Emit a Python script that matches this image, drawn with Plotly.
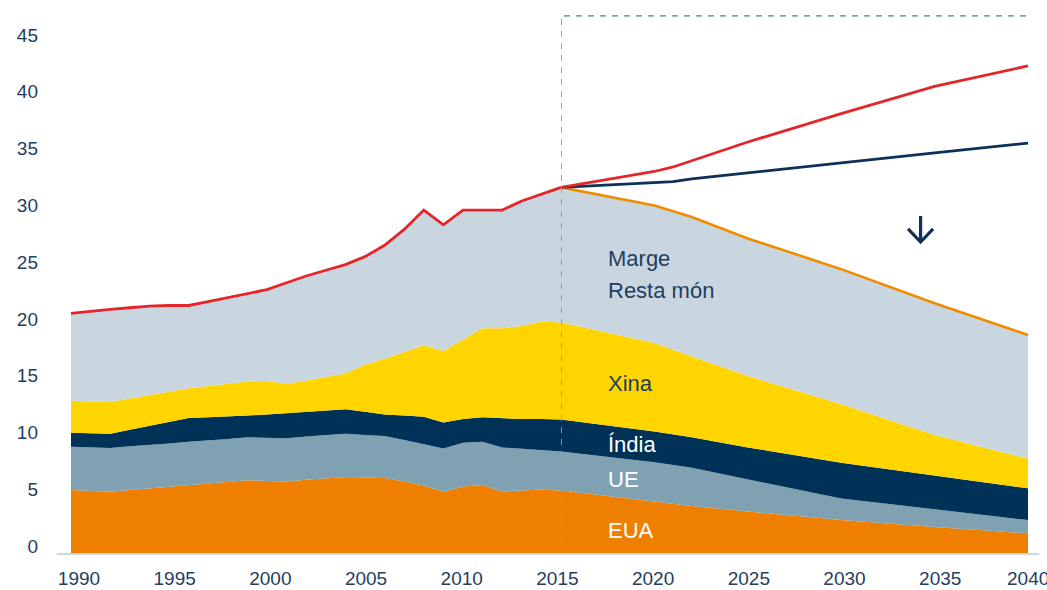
import numpy as np
import plotly.graph_objects as go

# ---------------- data (Gt CO2) ----------------
years = list(range(1990, 2016)) + [2020, 2022, 2025, 2030, 2035, 2040]

eua = [5.55, 5.5, 5.4, 5.55, 5.7, 5.85, 6.0, 6.15, 6.3, 6.4, 6.35, 6.3, 6.45, 6.6, 6.7, 6.65,
       6.6, 6.3, 5.95, 5.4, 5.85, 6.0, 5.4, 5.5, 5.6, 5.5, 4.5, 4.15, 3.65, 2.9, 2.3, 1.73]
ue = [3.8, 3.8, 3.85, 3.85, 3.8, 3.8, 3.8, 3.75, 3.75, 3.8, 3.8, 3.8, 3.8, 3.8, 3.8, 3.75,
      3.7, 3.65, 3.65, 3.8, 3.85, 3.8, 3.9, 3.7, 3.5, 3.45, 3.5, 3.35, 2.85, 1.9, 1.55, 1.17]
india = [1.25, 1.25, 1.25, 1.45, 1.7, 1.9, 2.1, 2.05, 1.95, 1.9, 2.05, 2.2, 2.15, 2.15, 2.15, 2.05,
         1.9, 2.15, 2.4, 2.3, 2.1, 2.15, 2.55, 2.6, 2.7, 2.8, 2.7, 2.7, 2.8, 3.15, 3.0, 2.8]
xina = [2.8, 2.8, 2.8, 2.75, 2.7, 2.65, 2.6, 2.75, 2.9, 3.0, 2.95, 2.6, 2.8, 2.95, 3.15, 4.15,
        4.9, 5.6, 6.3, 6.3, 7.0, 7.85, 7.95, 8.2, 8.6, 8.55, 7.8, 7.1, 6.3, 5.15, 3.55, 2.6]
resta = [7.7, 7.95, 8.15, 8.0, 7.85, 7.6, 7.3, 7.45, 7.6, 7.75, 8.05, 8.9, 9.2, 9.4, 9.6, 9.5,
         10.0, 10.8, 11.9, 11.1, 11.4, 10.4, 10.4, 11.0, 11.2, 11.9, 12.1, 12.3, 12.1, 11.9, 11.6, 10.9]

current_years = [2015, 2020, 2021, 2025, 2030, 2035, 2040]
current_policies = [32.2, 33.6, 34.0, 36.2, 38.7, 41.1, 42.9]
new_years = [2015, 2020, 2021, 2022, 2030, 2035, 2040]
new_policies = [32.2, 32.6, 32.7, 32.95, 34.4, 35.25, 36.1]

series_names = ["EUA", "UE", "Índia", "Xina", "Resta món"]
series_values = [eua, ue, india, xina, resta]
series_colors = ["#EE7F00", "#7FA1B2", "#003258", "#FFD500", "#C9D6DF"]

y_ticks = [0, 5, 10, 15, 20, 25, 30, 35, 40, 45]
x_ticks = [1990, 1995, 2000, 2005, 2010, 2015, 2020, 2025, 2030, 2035]
last_tick = 2040
split_year = 2015
box_top = 47.3

# ---------------- figure ----------------
navy_text = "#1F3E60"
fig = go.Figure()

yrs = np.array(years)
hist = yrs <= split_year
proj = yrs >= split_year
split_dom = 0.51324   # history part of the plot width (the source draws history a bit wider)

for name, vals, col in zip(series_names, series_values, series_colors):
    v = np.array(vals)
    fig.add_trace(go.Scatter(
        x=yrs[hist], y=v[hist], name=name, stackgroup="hist", mode="lines",
        xaxis="x", yaxis="y",
        line=dict(width=0, color=col), fillcolor=col, hoverinfo="skip"))
    fig.add_trace(go.Scatter(
        x=yrs[proj], y=v[proj], name=name, stackgroup="proj", mode="lines",
        xaxis="x2", yaxis="y",
        line=dict(width=0, color=col), fillcolor=col, hoverinfo="skip"))

total = np.sum(np.array(series_values), axis=0)

# 2 degree scenario (top of the projected stack)
fig.add_trace(go.Scatter(x=yrs[proj], y=total[proj], mode="lines", xaxis="x2", yaxis="y",
                         line=dict(color="#F08C00", width=2.6), hoverinfo="skip"))
# new policies
fig.add_trace(go.Scatter(x=new_years, y=new_policies, mode="lines", xaxis="x2", yaxis="y",
                         line=dict(color="#0C3158", width=2.8), hoverinfo="skip"))
# historical emissions
fig.add_trace(go.Scatter(x=yrs[hist], y=total[hist], mode="lines", xaxis="x", yaxis="y",
                         line=dict(color="#E3262A", width=2.8), hoverinfo="skip"))
# current policies
fig.add_trace(go.Scatter(x=current_years, y=current_policies, mode="lines", xaxis="x2", yaxis="y",
                         line=dict(color="#E3262A", width=2.8), hoverinfo="skip"))
# carrier for the shared year axis (no marks)
fig.add_trace(go.Scatter(x=[], y=[], xaxis="x3", yaxis="y", hoverinfo="skip", showlegend=False))

# dashed frame for projections
fig.add_shape(type="path",
              path=f"M {split_year},0 L {split_year},{box_top} L {last_tick},{box_top}",
              xref="x2", yref="y", line=dict(color="#7FA1B2", width=1.8, dash="6px,6px"))

ann_font = dict(family="Liberation Sans, Arial, sans-serif", size=22)
labels = [("Marge", 25.9, navy_text), ("Resta món", 23.1, navy_text),
          ("Xina", 14.9, navy_text), ("Índia", 9.55, "white"),
          ("UE", 6.43, "white"), ("EUA", 2.0, "white")]
for txt, yv, col in labels:
    fig.add_annotation(x=0.559, y=yv, xref="paper", yref="y", text=txt, showarrow=False,
                       xanchor="left", yanchor="middle", font=dict(color=col, **ann_font))

# last year label sits at the end of the data (as in the source)
fig.add_annotation(x=last_tick, y=0, xref="x3", yref="paper", text=str(last_tick),
                   showarrow=False, xanchor="center", yanchor="top", yshift=-13,
                   font=dict(family="Liberation Sans, Arial, sans-serif", size=19, color=navy_text))

# downward arrow icon (stem + chevron)
ax, ay = 2034.25, 28.54
half_w, stem_top, tip = 0.67, 29.68, 27.39
fig.add_shape(type="path",
              path=f"M {ax},{stem_top} L {ax},{tip} M {ax-half_w},{ay} L {ax},{tip} L {ax+half_w},{ay}",
              xref="x2", yref="y", line=dict(color="#0C3158", width=3.2))

fig.update_layout(
    width=1047, height=590,
    margin=dict(l=57, r=8, t=8, b=37, pad=0, autoexpand=False),
    paper_bgcolor="white", plot_bgcolor="rgba(0,0,0,0)",
    showlegend=False,
    font=dict(family="Liberation Sans, Arial, sans-serif", size=19, color=navy_text),
    xaxis=dict(domain=[0, split_dom], range=[1989.286, split_year], visible=False,
               anchor="y", fixedrange=True),
    xaxis2=dict(domain=[split_dom, 1], range=[split_year, 2040.589], visible=False,
                anchor="y", fixedrange=True),
    xaxis3=dict(domain=[0, 1], range=[1989.27, 2040.58], anchor="y",
                tickvals=x_ticks, showgrid=False, zeroline=False,
                showline=True, linecolor="#C8D8E2", linewidth=1.5, ticks="",
                ticklabelshift=8, ticklabelstandoff=7, automargin=False,
                ticklabeloverflow="allow", tickfont=dict(size=19, color=navy_text)),
    yaxis=dict(domain=[0, 1], anchor="x", range=[0, 48], tickvals=y_ticks, showgrid=False,
               zeroline=False, showline=False, ticks="", ticklabelshift=-7,
               ticklabelstandoff=18, automargin=False, ticklabeloverflow="allow",
               tickfont=dict(size=19, color=navy_text)),
)

fig.write_html("out.html", config={"displayModeBar": False},
               post_script="document.body.style.margin='0';document.body.style.overflow='hidden';")
